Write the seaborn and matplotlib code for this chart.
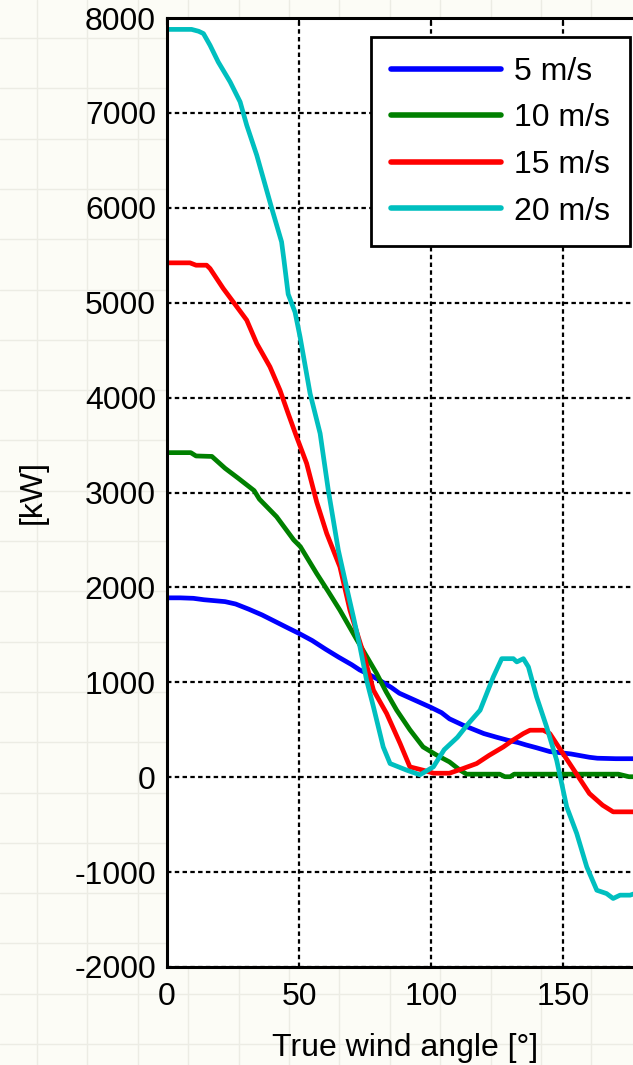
import numpy as np
import pandas as pd
import matplotlib
matplotlib.use("Agg")
import matplotlib.pyplot as plt
from matplotlib.lines import Line2D
import seaborn as sns

# ---------------- data ----------------
speeds = ["5 m/s", "10 m/s", "15 m/s", "20 m/s"]
colors = ["#0000ff", "#008000", "#ff0000", "#00bfbf"]

angle_5 = [0, 5, 10, 14, 18, 22, 26, 31, 36, 41, 46, 50, 55, 60, 65, 70, 73, 76,
           80, 85, 88, 92, 96, 100, 104, 107, 112, 116, 120, 125, 129, 133, 136,
           140, 145, 150, 153, 157, 160, 163, 170, 180]
power_5 = [1890, 1890, 1885, 1870, 1860, 1850, 1825, 1770, 1710, 1640, 1570, 1515,
           1440, 1350, 1265, 1185, 1130, 1090, 1030, 945, 885, 835, 785, 735, 680,
           615, 550, 505, 460, 420, 390, 365, 340, 310, 270, 255, 245, 225, 210,
           200, 195, 195]

angle_10 = [0, 5, 9, 11, 17, 22, 27, 33, 35, 41.5, 48, 50.5, 56.7, 61, 65.5, 72,
            79.4, 83, 87, 92, 97, 102, 107, 111, 113.5, 126, 128, 130, 131.5, 171,
            175, 180]
power_10 = [3420, 3420, 3420, 3385, 3380, 3255, 3150, 3020, 2930, 2745, 2500, 2430,
            2146, 1960, 1760, 1444, 1093, 900, 706, 500, 319, 235, 161, 74, 32, 32,
            5, 5, 32, 32, 5, 5]

angle_15 = [0, 8.7, 11, 15, 16.3, 21.3, 25.1, 30.2, 34, 39, 42.8, 45.9, 49.1, 52.9,
            56.7, 60.5, 65.5, 69.3, 74.4, 78.2, 83.2, 88.3, 92, 97, 101, 107, 112,
            117.3, 122, 127.4, 131, 135, 137.5, 142.5, 145, 150, 155, 160, 165, 169,
            180]
power_15 = [5420, 5420, 5395, 5395, 5360, 5150, 5008, 4816, 4570, 4324, 4078, 3832,
            3586, 3306, 2900, 2568, 2216, 1760, 1304, 917, 671, 355, 109, 74, 42, 42,
            90, 144, 230, 319, 390, 460, 495, 495, 460, 249, 39, -172, -295, -365,
            -365]

angle_20 = [0, 9.3, 12, 13.8, 16.3, 19.4, 23.9, 27.7, 30.2, 34, 36.5, 39.7, 43.4,
            44.3, 45.9, 48.5, 50.4, 54.2, 58, 61.1, 64.9, 68, 70.6, 73.1, 75.6, 78.2,
            81.9, 84.5, 90.8, 95.8, 100.9, 105, 110, 114, 118.6, 123.6, 126.8, 131.2,
            132.5, 135, 136.9, 140, 143.8, 147.6, 151.4, 155.2, 159, 162.8, 166.5,
            169, 171.6, 175.4, 180]
power_20 = [7880, 7880, 7860, 7836, 7713, 7537, 7327, 7116, 6870, 6554, 6308, 5992,
            5641, 5450, 5090, 4900, 4640, 4043, 3622, 3024, 2392, 2005, 1689, 1373,
            1022, 741, 319, 144, 74, 25, 109, 290, 420, 560, 706, 1057, 1249, 1249,
            1215, 1249, 1162, 846, 530, 179, -312, -593, -945, -1191, -1226, -1278,
            -1243, -1243, -1200]

x_ticks = [0, 50, 100, 150]
y_ticks = list(range(-2000, 8001, 1000))

df = pd.concat([
    pd.DataFrame({"angle": a, "power": p, "speed": s})
    for a, p, s in zip([angle_5, angle_10, angle_15, angle_20],
                       [power_5, power_10, power_15, power_20], speeds)
], ignore_index=True)

# ---------------- style ----------------
sns.set_style("white")
plt.rcParams["font.family"] = ["Liberation Sans", "DejaVu Sans"]
plt.rcParams["axes.unicode_minus"] = False
plt.rcParams["text.color"] = "black"
plt.rcParams["axes.labelcolor"] = "black"

FS = 23
W, H = 633, 1065
fig = plt.figure(figsize=(W / 100, H / 100), dpi=100)
fig.patch.set_facecolor("#fcfcf6")

# graph-paper background
for k in range(14):
    xp = (37 + 50.4 * k) / W
    fig.add_artist(Line2D([xp, xp], [0, 1], transform=fig.transFigure,
                          color="#ececE4", lw=1.0, zorder=0))
for k in range(22):
    yp = 1 - (38 + 50.3 * k) / H
    fig.add_artist(Line2D([0, 1], [yp, yp], transform=fig.transFigure,
                          color="#ececE4", lw=1.0, zorder=0))

left, right, top, bottom = 167, 642.2, 18, 967
ax = fig.add_axes([left / W, 1 - bottom / H, (right - left) / W, (bottom - top) / H])
ax.set_facecolor("white")

sns.lineplot(data=df, x="angle", y="power", hue="speed", hue_order=speeds,
             palette=colors, estimator=None, sort=False, lw=3.4, ax=ax,
             legend=False)

ax.set_xlim(0, 180)
ax.set_ylim(-2000, 8000)
ax.set_xticks(x_ticks)
ax.set_yticks(y_ticks)
ax.grid(True, color="black", linestyle=(0, (2.0, 1.5)), lw=1.6)
ax.set_axisbelow(True)

for sp in ax.spines.values():
    sp.set_visible(True)
    sp.set_color("black")
    sp.set_linewidth(2.2)

ax.tick_params(axis="both", direction="in", length=5, width=1.5,
               labelsize=FS, colors="black", top=True, right=True)
ax.tick_params(axis="y", pad=8)
ax.tick_params(axis="x", pad=11)

ax.set_xlabel("True wind angle [°]", fontsize=FS, labelpad=15)
ax.set_ylabel("[kW]", fontsize=FS, labelpad=19)

handles = [Line2D([], [], color=c, lw=4) for c in colors]
leg = ax.legend(handles, speeds, loc="upper right",
                bbox_to_anchor=(630 / W, 1 - 37 / H),
                bbox_transform=fig.transFigure, borderaxespad=0,
                fontsize=FS, handlelength=3.45, handletextpad=0.4,
                labelspacing=0.52, borderpad=0.62, fancybox=False,
                framealpha=1, edgecolor="black")
leg.get_frame().set_linewidth(2.0)

fig.savefig("out.png", dpi=100, facecolor=fig.get_facecolor())
